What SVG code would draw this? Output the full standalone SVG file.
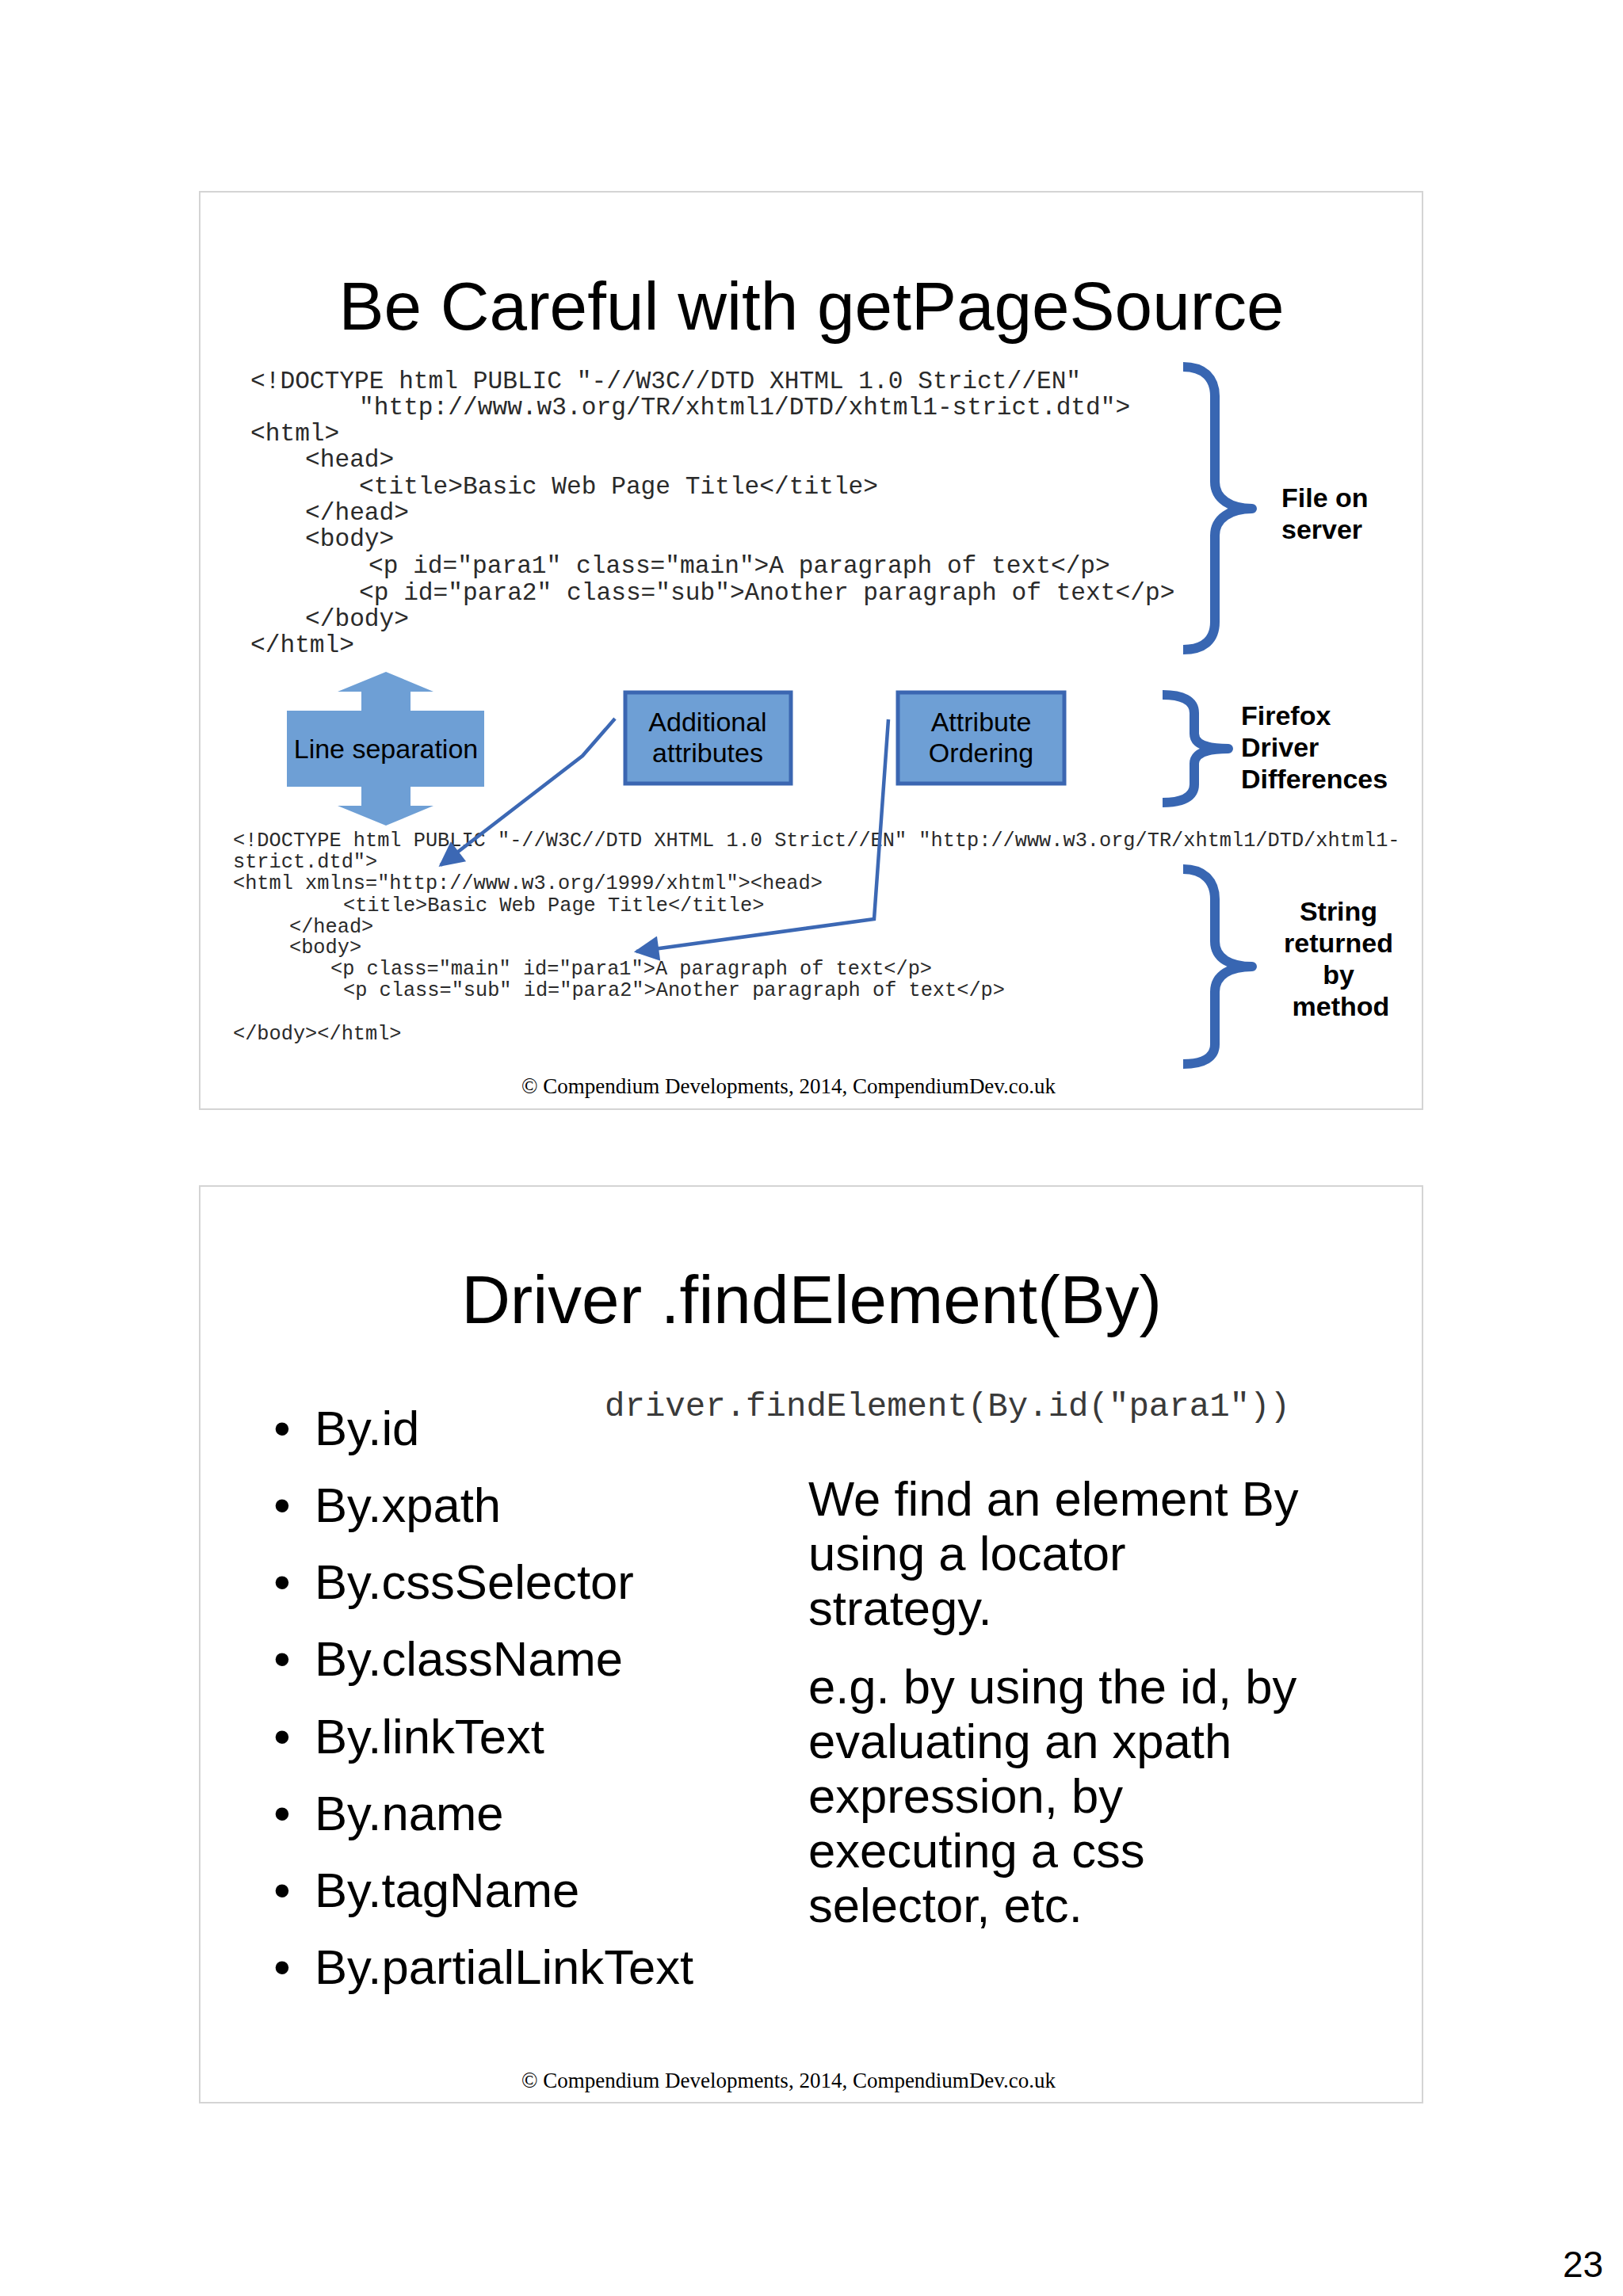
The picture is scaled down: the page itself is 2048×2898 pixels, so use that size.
<svg xmlns="http://www.w3.org/2000/svg" width="2048" height="2898" viewBox="0 0 2048 2898">
<style>
.slide{fill:#ffffff;stroke:#d4d4d4;stroke-width:2}
.title{font-family:"Liberation Sans",Arial,sans-serif;font-size:85.5px;fill:#000;text-anchor:middle}
.code1{font-family:"Liberation Mono","Courier New",monospace;font-size:31.2px;fill:#2a2a2a;white-space:pre}
.code2{font-family:"Liberation Mono","Courier New",monospace;font-size:25.3px;fill:#2a2a2a;white-space:pre}
.lbl{font-family:"Liberation Sans",Arial,sans-serif;font-size:34px;font-weight:bold;fill:#000}
.box{fill:#6e9fd5;stroke:#3b66b1;stroke-width:5}
.boxtxt{font-family:"Liberation Sans",Arial,sans-serif;font-size:34px;fill:#000;text-anchor:middle}
.brace{fill:none;stroke:#3866b2;stroke-width:12;stroke-linejoin:round;stroke-linecap:butt}
.conn{fill:none;stroke:#3c68b4;stroke-width:4.5}
.foot{font-family:"Liberation Serif","Times New Roman",serif;font-size:27px;fill:#000;text-anchor:middle}
.big{font-family:"Liberation Sans",Arial,sans-serif;font-size:61.6px;fill:#000}
.bul{font-family:"Liberation Sans",Arial,sans-serif;font-size:61px;fill:#000;text-anchor:middle}
.code3{font-family:"Liberation Mono","Courier New",monospace;font-size:42.4px;fill:#3a3a3a;white-space:pre}
</style>
<defs>
<marker id="ah" viewBox="0 0 10 10" refX="9" refY="5" markerWidth="8" markerHeight="7" orient="auto" markerUnits="strokeWidth">
<path d="M0,0 L10,5 L0,10 Z" fill="#3c68b4"/>
</marker>
</defs>
<rect width="2048" height="2898" fill="#ffffff"/>

<!-- Slide 1 -->
<rect id="slide1" class="slide" x="252" y="242" width="1543" height="1158"/>
<g id="title1"><text class="title" x="1024" y="416">Be Careful with getPageSource</text></g>

<g id="code-server">
<text class="code1" x="316" y="490">&lt;!DOCTYPE html PUBLIC "-//W3C//DTD XHTML 1.0 Strict//EN"</text>
<text class="code1" x="453" y="523">"http://www.w3.org/TR/xhtml1/DTD/xhtml1-strict.dtd"&gt;</text>
<text class="code1" x="316" y="556">&lt;html&gt;</text>
<text class="code1" x="385" y="589">&lt;head&gt;</text>
<text class="code1" x="453" y="623">&lt;title&gt;Basic Web Page Title&lt;/title&gt;</text>
<text class="code1" x="385" y="656">&lt;/head&gt;</text>
<text class="code1" x="385" y="689">&lt;body&gt;</text>
<text class="code1" x="465" y="723">&lt;p id="para1" class="main"&gt;A paragraph of text&lt;/p&gt;</text>
<text class="code1" x="453" y="757">&lt;p id="para2" class="sub"&gt;Another paragraph of text&lt;/p&gt;</text>
<text class="code1" x="385" y="790">&lt;/body&gt;</text>
<text class="code1" x="316" y="823">&lt;/html&gt;</text>
</g>

<g id="brace-server">
<path class="brace" d="M1493,463 C1520,463 1533,478 1533,500 L1533,608 C1533,630 1553,642 1580,642 C1553,642 1533,654 1533,676 L1533,785 C1533,807 1520,820 1493,820"/>
<text class="lbl" x="1617" y="640">File on</text>
<text class="lbl" x="1617" y="680">server</text>
</g>

<g id="line-separation">
<polygon points="487,848 547,873 518,873 518,897 611,897 611,993 518,993 518,1017 547,1017 487,1042 426,1017 456,1017 456,993 362,993 362,897 456,897 456,873 426,873" fill="#6e9fd5"/>
<text class="boxtxt" x="487" y="957">Line separation</text>
</g>

<g id="additional-attributes">
<rect class="box" x="789" y="874" width="209" height="115"/>
<text class="boxtxt" x="893" y="923">Additional</text>
<text class="boxtxt" x="893" y="962">attributes</text>
</g>

<g id="attribute-ordering">
<rect class="box" x="1133" y="874" width="210" height="115"/>
<text class="boxtxt" x="1238" y="923">Attribute</text>
<text class="boxtxt" x="1238" y="962">Ordering</text>
</g>

<g id="brace-firefox">
<path class="brace" d="M1467,877 C1492,877 1507,884 1507,900 L1507,926 C1507,940 1525,945 1550,945 C1525,945 1507,950 1507,964 L1507,990 C1507,1006 1492,1013 1467,1013"/>
<text class="lbl" x="1566" y="915">Firefox</text>
<text class="lbl" x="1566" y="955">Driver</text>
<text class="lbl" x="1566" y="995">Differences</text>
</g>

<g id="code-returned">
<text class="code2" x="294" y="1068">&lt;!DOCTYPE html PUBLIC "-//W3C//DTD XHTML 1.0 Strict//EN" "http://www.w3.org/TR/xhtml1/DTD/xhtml1-</text>
<text class="code2" x="294" y="1095">strict.dtd"&gt;</text>
<text class="code2" x="294" y="1122">&lt;html xmlns="http://www.w3.org/1999/xhtml"&gt;&lt;head&gt;</text>
<text class="code2" x="433" y="1150">&lt;title&gt;Basic Web Page Title&lt;/title&gt;</text>
<text class="code2" x="365" y="1177">&lt;/head&gt;</text>
<text class="code2" x="365" y="1203">&lt;body&gt;</text>
<text class="code2" x="417" y="1230">&lt;p class="main" id="para1"&gt;A paragraph of text&lt;/p&gt;</text>
<text class="code2" x="433" y="1257">&lt;p class="sub" id="para2"&gt;Another paragraph of text&lt;/p&gt;</text>
<text class="code2" x="294" y="1312">&lt;/body&gt;&lt;/html&gt;</text>
</g>

<g id="brace-string">
<path class="brace" d="M1493,1097 C1520,1097 1533,1113 1533,1135 L1533,1188 C1533,1210 1553,1220 1580,1220 C1553,1220 1533,1230 1533,1252 L1533,1318 C1533,1334 1520,1343 1493,1343"/>
<text class="lbl" x="1689" y="1162" text-anchor="middle">String</text>
<text class="lbl" x="1689" y="1202" text-anchor="middle">returned</text>
<text class="lbl" x="1689" y="1242" text-anchor="middle">by</text>
<text class="lbl" x="1692" y="1282" text-anchor="middle">method</text>
</g>

<g id="connectors">
<polyline class="conn" points="776,907 735,954 556,1092" marker-end="url(#ah)"/>
<polyline class="conn" points="1121,908 1103,1160 803,1201" marker-end="url(#ah)"/>
</g>

<g id="footer1"><text class="foot" x="995" y="1380">© Compendium Developments, 2014, CompendiumDev.co.uk</text></g>

<!-- Slide 2 -->
<rect id="slide2" class="slide" x="252" y="1497" width="1543" height="1157"/>
<g id="title2"><text class="title" x="1024" y="1670">Driver .findElement(By)</text></g>

<g id="code-example"><text class="code3" x="763" y="1787">driver.findElement(By.id("para1"))</text></g>

<g id="bullets">
<text class="bul" x="356" y="1824">•</text><text class="big" x="397" y="1824">By.id</text>
<text class="bul" x="356" y="1921">•</text><text class="big" x="397" y="1921">By.xpath</text>
<text class="bul" x="356" y="2018">•</text><text class="big" x="397" y="2018">By.cssSelector</text>
<text class="bul" x="356" y="2115">•</text><text class="big" x="397" y="2115">By.className</text>
<text class="bul" x="356" y="2213">•</text><text class="big" x="397" y="2213">By.linkText</text>
<text class="bul" x="356" y="2310">•</text><text class="big" x="397" y="2310">By.name</text>
<text class="bul" x="356" y="2407">•</text><text class="big" x="397" y="2407">By.tagName</text>
<text class="bul" x="356" y="2504">•</text><text class="big" x="397" y="2504">By.partialLinkText</text>
</g>

<g id="explanation">
<text class="big" x="1020" y="1913">We find an element By</text>
<text class="big" x="1020" y="1982">using a locator</text>
<text class="big" x="1020" y="2051">strategy.</text>
<text class="big" x="1020" y="2150">e.g. by using the id, by</text>
<text class="big" x="1020" y="2219">evaluating an xpath</text>
<text class="big" x="1020" y="2288">expression, by</text>
<text class="big" x="1020" y="2357">executing a css</text>
<text class="big" x="1020" y="2426">selector, etc.</text>
</g>

<g id="footer2"><text class="foot" x="995" y="2635">© Compendium Developments, 2014, CompendiumDev.co.uk</text></g>

<g id="page-number"><text x="1972" y="2874" font-family="Liberation Sans, Arial, sans-serif" font-size="46" fill="#000">23</text></g>
</svg>
